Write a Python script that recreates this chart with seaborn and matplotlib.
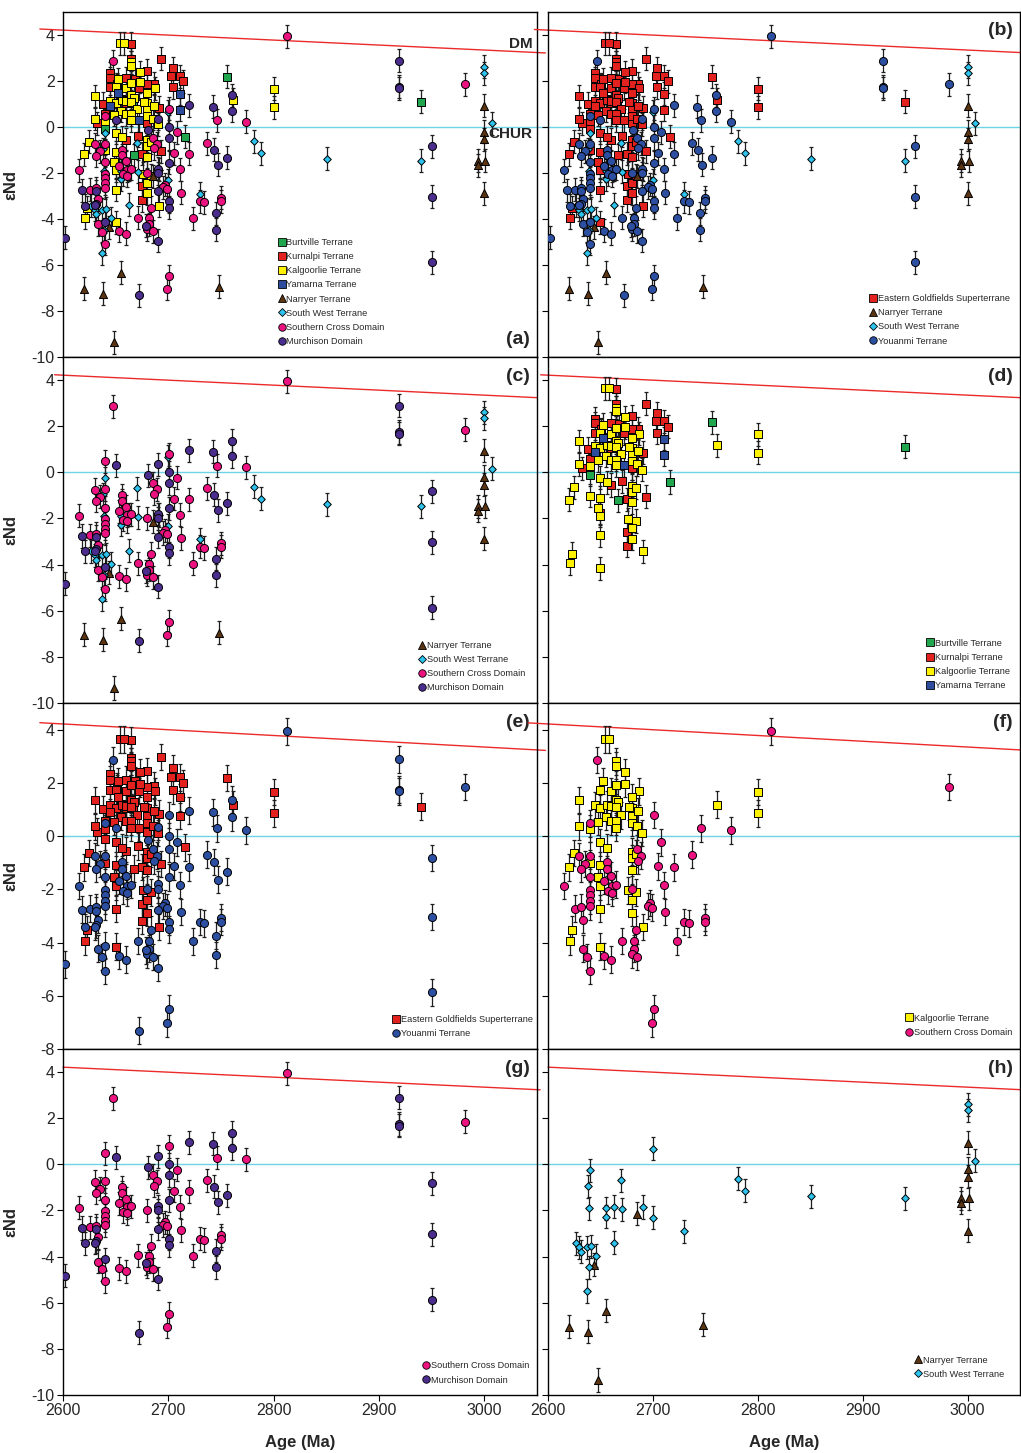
import numpy as np
import pandas as pd
import matplotlib
matplotlib.use("Agg")
import matplotlib.pyplot as plt
from matplotlib.lines import Line2D
import seaborn as sns

# ---------------------------------------------------------------- data
BURT_AGE = [2756, 2716, 2640, 2667, 2651, 2666, 2940]
BURT_EPS = [2.18, -0.42, -0.10, -1.22, 1.80, 1.05, 1.10]

KURN_AGE = [2665, 2665, 2665, 2693, 2680, 2645, 2645, 2660, 2704, 2703, 2711,
            2714, 2704, 2686, 2680, 2672, 2645, 2651, 2668, 2638, 2640, 2632,
            2691, 2680, 2660, 2655, 2671, 2660, 2675, 2693, 2650, 2675, 2675]
KURN_EPS = [3.61, 2.95, 2.81, 2.97, 2.44, 2.33, 2.12, 2.12, 2.56, 2.21, 2.21,
            1.98, 1.72, 1.89, 1.86, 1.69, 1.72, 1.86, 2.08, 1.02, 0.58, 0.17,
            0.84, 0.17, 1.06, 1.20, -0.39, -0.55, -1.16, -1.05, -1.77, -2.57, -3.19]

KALG_AGE = [2654, 2658, 2665, 2665, 2673, 2652, 2650, 2660, 2665, 2673, 2687,
            2630, 2645, 2650, 2656, 2660, 2665, 2667, 2665, 2670, 2655, 2660,
            2665, 2665, 2648, 2640, 2630, 2680, 2680, 2680, 2680, 2686, 2685,
            2690, 2677, 2761, 2650, 2656, 2625, 2620, 2640, 2650, 2648, 2650,
            2680, 2680, 2684, 2680, 2676, 2684, 2680, 2680, 2650, 2691, 2623,
            2621, 2650, 2800, 2800]
KALG_EPS = [3.64, 3.64, 2.81, 2.65, 2.39, 2.07, 1.72, 1.68, 1.93, 1.96, 1.68,
            1.34, 1.15, 1.05, 1.18, 1.12, 1.37, 1.27, 1.09, 0.78, 0.71, 0.55,
            0.55, 0.30, 0.53, 0.28, 0.36, 1.47, 1.05, 0.74, 0.49, 0.93, 0.36,
            0.11, 1.09, 1.18, -0.24, -0.44, -0.64, -1.18, -1.02, -1.10, -1.54, -1.89,
            -0.58, -0.84, -0.66, -1.29, -2.04, -2.11, -2.42, -2.88, -2.73, -3.42, -3.52,
            -3.95, -4.15, 1.66, 0.85]

YAMA_AGE = [2652, 2711, 2711, 2645, 2672]
YAMA_EPS = [1.47, 1.45, 0.76, 0.90, 0.30]

NARR_AGE = [2620, 2638, 2648, 2644, 2655, 2685, 2748, 3000, 3000, 3000, 2994,
            2994, 3001, 3000]
NARR_EPS = [-7.04, -7.26, -9.35, -4.36, -6.34, -2.15, -6.95, 0.93, -0.20, -0.53,
            -1.47, -1.66, -1.47, -2.88]

SW_AGE = [2627, 2630, 2631, 2637, 2639, 2641, 2646, 2637, 2638, 2640, 2639,
          2655, 2655, 2663, 2663, 2670, 2671, 2691, 2700, 2700, 2730, 2781,
          2788, 2851, 2940, 3000, 3000, 3007]
SW_EPS = [-3.42, -3.60, -3.78, -3.60, -4.47, -3.56, -3.96, -5.49, -0.96, -0.25,
          -1.91, -1.91, -2.28, -1.84, -3.39, -0.70, -1.94, -1.85, 0.67, -2.32,
          -2.90, -0.63, -1.15, -1.39, -1.47, 2.61, 2.34, 0.16]

SCROSS_AGE = [2647, 2813, 2640, 2701, 2746, 2774, 2685, 2708, 2630, 2635, 2631,
              2640, 2689, 2686, 2656, 2656, 2705, 2737, 2720, 2640, 2615, 2653,
              2660, 2661, 2665, 2657, 2661, 2640, 2640, 2640, 2640, 2626, 2631,
              2633, 2680, 2697, 2695, 2699, 2711, 2712, 2684, 2671, 2682, 2682,
              2680, 2685, 2633, 2637, 2640, 2653, 2660, 2723, 2730, 2734, 2750,
              2750, 2701, 2699, 2982]
SCROSS_EPS = [2.86, 3.94, 0.48, 0.79, 0.29, 0.22, -0.47, -0.23, -0.76, -1.05, -1.24,
              -0.73, -0.73, -0.92, -0.99, -1.23, -1.14, -0.70, -1.17, -1.53, -1.88, -1.69,
              -1.49, -1.87, -1.82, -2.06, -2.13, -2.04, -2.23, -2.44, -2.64, -2.73, -2.67,
              -3.15, -1.99, -2.51, -2.63, -2.69, -1.84, -2.85, -3.52, -3.94, -3.96, -4.23,
              -4.44, -4.54, -4.23, -4.55, -5.07, -4.51, -4.64, -3.96, -3.23, -3.28, -3.07,
              -3.23, -6.48, -7.04, 1.85]

MURCH_AGE = [2760, 2760, 2720, 2742, 2650, 2681, 2690, 2701, 2701, 2701, 2743,
             2747, 2756, 2690, 2690, 2690, 2618, 2631, 2621, 2631, 2630, 2640,
             2679, 2690, 2701, 2701, 2745, 2745, 2672, 2602, 2919, 2919, 2919,
             2950, 2950, 2950]
MURCH_EPS = [1.37, 0.70, 0.95, 0.89, 0.31, -0.13, 0.35, 0.01, -0.48, -1.55, -0.98,
             -1.64, -1.34, -1.81, -2.00, -2.79, -2.76, -2.80, -3.43, -3.33, -3.40, -4.12,
             -4.29, -4.95, -3.23, -3.50, -3.74, -4.47, -7.31, -4.82, 2.88, 1.75, 1.68,
             -0.83, -3.04, -5.87]

EPS_ERR = 0.5  # 2-sigma uncertainty on each analysis

# depleted-mantle evolution (two end points of the line)
DM_AGE = [2578, 3058]
DM_EPS = [4.26, 3.22]

AGE_TICKS = [2600, 2700, 2800, 2900, 3000]

# ---------------------------------------------------------------- table
groups = {
    "Burtville Terrane": (BURT_AGE, BURT_EPS, "Eastern Goldfields Superterrane"),
    "Kurnalpi Terrane": (KURN_AGE, KURN_EPS, "Eastern Goldfields Superterrane"),
    "Kalgoorlie Terrane": (KALG_AGE, KALG_EPS, "Eastern Goldfields Superterrane"),
    "Yamarna Terrane": (YAMA_AGE, YAMA_EPS, "Eastern Goldfields Superterrane"),
    "Narryer Terrane": (NARR_AGE, NARR_EPS, "Narryer Terrane"),
    "South West Terrane": (SW_AGE, SW_EPS, "South West Terrane"),
    "Southern Cross Domain": (SCROSS_AGE, SCROSS_EPS, "Youanmi Terrane"),
    "Murchison Domain": (MURCH_AGE, MURCH_EPS, "Youanmi Terrane"),
}
frames = []
for name, (a, e, sup) in groups.items():
    frames.append(pd.DataFrame({"age": a, "eps": e, "unit": name, "super": sup}))
df = pd.concat(frames, ignore_index=True)

STYLE = {
    "Burtville Terrane": ("s", "#20a64c", 28),
    "Kurnalpi Terrane": ("s", "#e3211f", 28),
    "Kalgoorlie Terrane": ("s", "#fff200", 28),
    "Yamarna Terrane": ("s", "#2e4c9e", 28),
    "Eastern Goldfields Superterrane": ("s", "#e3211f", 28),
    "Narryer Terrane": ("^", "#5b3412", 34),
    "South West Terrane": ("D", "#2cc4ef", 15),
    "Southern Cross Domain": ("o", "#ec1380", 34),
    "Murchison Domain": ("o", "#4a2d8c", 34),
    "Youanmi Terrane": ("o", "#2d4fa2", 34),
}

ALL_UNITS = list(groups.keys())
SUPER = ["Eastern Goldfields Superterrane", "Narryer Terrane",
         "South West Terrane", "Youanmi Terrane"]

# panel: letter, row, col, column used, units, legend anchor, letter y, dm span, ylim bottom
panels = [
    ("a", 0, 0, "unit", ALL_UNITS, (0.455, 0.345), 0.05, (2578, 3058), -10),
    ("b", 0, 1, "super", SUPER, (0.682, 0.182), 0.945, (2587, 3050), -10),
    ("c", 1, 0, "unit", ["Narryer Terrane", "South West Terrane",
                         "Southern Cross Domain", "Murchison Domain"],
     (0.751, 0.180), 0.945, (2592, 3050), -10),
    ("d", 1, 1, "unit", ["Burtville Terrane", "Kurnalpi Terrane",
                         "Kalgoorlie Terrane", "Yamarna Terrane"],
     (0.803, 0.186), 0.945, (2593, 3050), -10),
    ("e", 2, 0, "super", ["Eastern Goldfields Superterrane", "Youanmi Terrane"],
     (0.696, 0.098), 0.945, (2578, 3058), -8),
    ("f", 2, 1, "unit", ["Kalgoorlie Terrane", "Southern Cross Domain"],
     (0.758, 0.102), 0.945, (2581, 3050), -8),
    ("g", 3, 0, "unit", ["Southern Cross Domain", "Murchison Domain"],
     (0.760, 0.097), 0.945, (2600, 3053), -10),
    ("h", 3, 1, "unit", ["Narryer Terrane", "South West Terrane"],
     (0.778, 0.114), 0.945, (2600, 3050), -10),
]

# ---------------------------------------------------------------- figure
sns.set_theme(style="white")
plt.rcParams["font.family"] = ["Liberation Sans", "DejaVu Sans"]
plt.rcParams["axes.unicode_minus"] = False

W, H = 1021, 1453
fig = plt.figure(figsize=(W / 100, H / 100), dpi=100)

col_x = [63, 548]
col_w = [474, 472]
row_top = [12, 357, 703, 1049]
row_bot = [357, 703, 1049, 1395]

dm_slope = (DM_EPS[1] - DM_EPS[0]) / (DM_AGE[1] - DM_AGE[0])


def dm_line(t):
    return DM_EPS[0] + dm_slope * (np.asarray(t) - DM_AGE[0])


for letter, r, c, key, units, leg_anchor, ly, dm_span, ybot in panels:
    left = col_x[c] / W
    bottom = 1 - row_bot[r] / H
    width = col_w[c] / W
    height = (row_bot[r] - row_top[r]) / H
    ax = fig.add_axes([left, bottom, width, height])

    # reference lines
    ts = np.array(dm_span, dtype=float)
    ax.plot(ts, dm_line(ts), color="#ec2a2a", lw=1.0, clip_on=False, zorder=1)
    chur_end = 3060 if c == 0 else 3050
    ax.plot([2600, chur_end], [0, 0], color="#6dd3e6", lw=1.0, clip_on=False, zorder=1)

    handles = []
    for u in units:
        sub = df[df[key] == u]
        m, col, s = STYLE[u]
        ax.errorbar(sub["age"], sub["eps"], yerr=EPS_ERR, fmt="none",
                    ecolor="#1e1e1e", elinewidth=0.9, capsize=1.5,
                    capthick=0.9, zorder=2)
        sns.scatterplot(data=sub, x="age", y="eps", marker=m, color=col, s=s,
                        edgecolor="black", linewidth=0.7, ax=ax, zorder=3,
                        legend=False)
        handles.append(Line2D([], [], marker=m, linestyle="none",
                              markerfacecolor=col, markeredgecolor="black",
                              markeredgewidth=0.6,
                              markersize=5.4 if m != "D" else 4.2, label=u))

    ax.set_xlim(2600, 3050)
    ax.set_ylim(ybot, 5)
    ax.set_xticks(AGE_TICKS)
    ax.set_yticks(np.arange(ybot, 5, 2))
    ax.tick_params(axis="both", direction="out", length=4, width=0.8,
                   color="black", labelsize=11.5, pad=2)
    ax.tick_params(axis="x", bottom=True)
    ax.tick_params(axis="y", left=True)
    for sp in ax.spines.values():
        sp.set_color("black")
        sp.set_linewidth(1.0)

    if c == 1:
        ax.set_yticklabels([])
        ax.set_ylabel("")
    else:
        ax.set_ylabel("εNd", fontsize=12, fontweight="bold")
        ax.yaxis.set_label_coords(-0.095, 0.5)
    if r < 3:
        ax.set_xticklabels([])
        ax.set_xlabel("")
    else:
        ax.set_xlabel("Age (Ma)", fontsize=12, fontweight="bold", labelpad=12)

    ax.text(0.985, ly, f"({letter})", transform=ax.transAxes, ha="right",
            va="center", fontsize=14, fontweight="bold")

    ax.legend(handles=handles, loc="upper left", bbox_to_anchor=leg_anchor,
              frameon=False, fontsize=6.6, handlelength=0.7,
              handletextpad=0.15, labelspacing=0.56, borderpad=0,
              borderaxespad=0)

    if letter == "a":
        ax.text(3046, 3.6, "DM", ha="right", va="center", fontsize=11,
                fontweight="bold")
        ax.text(3046, -0.32, "CHUR", ha="right", va="center", fontsize=11,
                fontweight="bold")

fig.savefig("out.png", dpi=100)
